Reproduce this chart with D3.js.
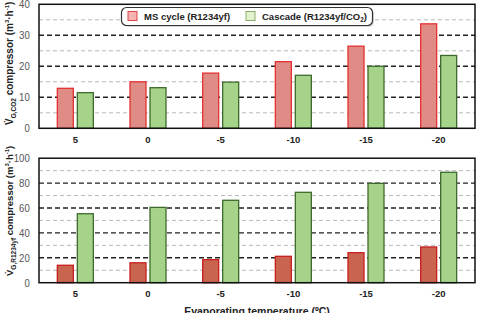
<!DOCTYPE html>
<html><head><meta charset="utf-8">
<script src="https://cdn.jsdelivr.net/npm/d3@7"></script>
<style>
body{margin:0;background:#fff;}
svg{display:block;}
text{font-family:"Liberation Sans",Arial,sans-serif;}
</style></head>
<body><svg id="c" width="479" height="313"></svg>
<script>
const categories = ["5","0","-5","-10","-15","-20"];
const seriesNames = ["MS cycle (R1234yf)","Cascade (R1234yf/CO₂)"];
const topMS = [12.9,15.0,17.8,21.5,26.5,33.7];
const topCascade = [11.5,13.1,14.9,17.1,20.0,23.5];
const botMS = [14,16,18.5,21.2,24.1,28.7];
const botCascade = [55.4,60.5,66.2,72.6,79.8,88.7];
const topTicks = [0,10,20,30,40];
const botTicks = [0,20,40,60,80,100];

const svg = d3.select("#c");
const L = 39, R = 475;
const x0 = d3.scaleBand().domain(categories).range([L, R]).padding(0);
const x1 = d3.scaleBand().domain([0,1]).range([0,36]).paddingInner(0.2).paddingOuter(0);

function panel(cfg){
  const y = d3.scaleLinear().domain([0, cfg.max]).range([cfg.bottom, cfg.top]);
  const g = svg.append("g");
  g.selectAll(".mn").data(cfg.minor).enter().append("line")
    .attr("x1", L).attr("x2", R).attr("y1", d=>y(d)).attr("y2", d=>y(d))
    .attr("stroke", "#b8b8b8").attr("stroke-width", 1).attr("stroke-dasharray", "4,3");
  g.selectAll(".mj").data(cfg.ticks.filter(t=>t>0 && t<cfg.max)).enter().append("line")
    .attr("x1", L).attr("x2", R).attr("y1", d=>y(d)).attr("y2", d=>y(d))
    .attr("stroke", "#222").attr("stroke-width", 1.4).attr("stroke-dasharray", "5,3");
  const vals = [cfg.a, cfg.b];
  const fills = [cfg.redFill, "#a6d38a"];
  const strokes = [cfg.redStroke, "#3e6a2c"];
  categories.forEach((c, i) => {
    const gx = x0(c) + (x0.bandwidth() - 36) / 2;
    [0,1].forEach(s => {
      g.append("rect")
        .attr("x", gx + x1(s)).attr("width", x1.bandwidth())
        .attr("y", y(vals[s][i])).attr("height", y(0) - y(vals[s][i]))
        .attr("fill", fills[s]).attr("stroke", strokes[s]).attr("stroke-width", 1.3);
    });
  });
  g.append("rect").attr("x", L).attr("y", y(cfg.max)).attr("width", R - L).attr("height", y(0) - y(cfg.max))
    .attr("fill", "none").attr("stroke", "#111").attr("stroke-width", 1.5);
  const ya = d3.axisLeft(y).tickValues(cfg.ticks).tickSize(0).tickPadding(8);
  const yg = g.append("g").attr("transform", `translate(${L},0)`).call(ya);
  yg.select(".domain").remove();
  yg.selectAll("text").attr("font-size", 10.5).attr("fill", "#555")
    .attr("font-family", "'Liberation Sans Narrow','Liberation Sans',Arial,sans-serif")
    .attr("transform", "scale(0.92,1)").attr("x", -10);
  const xa = d3.axisBottom(x0).tickSize(0).tickPadding(8);
  const xg = g.append("g").attr("transform", `translate(0,${y(0)})`).call(xa);
  xg.select(".domain").remove();
  xg.selectAll("text").attr("font-size", 9.5).attr("font-weight", "bold").attr("fill", "#222");
  const t = g.append("text").attr("transform", `translate(13,${cfg.titleY}) rotate(-90)`)
    .attr("text-anchor", "start").attr("font-size", cfg.tfs).attr("font-weight", "bold").attr("fill", "#222");
  t.append("tspan").text("V\u0307");
  t.append("tspan").text(cfg.sub).attr("font-size", 6.5).attr("dy", 3);
  t.append("tspan").text(" compressor (m").attr("dy", -3);
  t.append("tspan").text("3").attr("font-size", 6).attr("dy", -4);
  t.append("tspan").text("·h").attr("dy", 4);
  t.append("tspan").text("-1").attr("font-size", 6).attr("dy", -4);
  t.append("tspan").text(")").attr("dy", 4);
  return y;
}

panel({max:40, top:4.3, bottom:128.3, ticks:topTicks, minor:[5,15,25,35], a:topMS, b:topCascade,
  redFill:"#e08c86", redStroke:"#e53030", sub:"G,CO2", titleY:125, tfs:10});
panel({max:100, top:158.2, bottom:282.7, ticks:botTicks, minor:[10,30,50,70,90], a:botMS, b:botCascade,
  redFill:"#c9644f", redStroke:"#c81e1e", sub:"G,R1234yf", titleY:276, tfs:9.5});

const lg = svg.append("g");
lg.append("rect").attr("x", 123).attr("y", 9).attr("width", 251).attr("height", 18).attr("rx", 5)
  .attr("fill", "#bbb").attr("opacity", 0.6);
lg.append("rect").attr("x", 121.5).attr("y", 7.5).attr("width", 251).attr("height", 18).attr("rx", 5)
  .attr("fill", "#fff").attr("stroke", "#333").attr("stroke-width", 1.2);
const lfill = ["#f6b3b3","#e4f2d2"], lstroke = ["#d44","#8aaa6a"], lx = [128, 246];
seriesNames.forEach((n, i) => {
  lg.append("rect").attr("x", lx[i]).attr("y", 11.5).attr("width", 9).attr("height", 9)
    .attr("fill", lfill[i]).attr("stroke", lstroke[i]).attr("stroke-width", 1);
  const tt = lg.append("text").attr("x", lx[i] + 16).attr("y", 20).attr("font-size", 9.5)
    .attr("font-weight", "bold").attr("fill", "#222");
  if (i === 0) tt.text(n);
  else {
    tt.append("tspan").text("Cascade (R1234yf/CO");
    tt.append("tspan").text("2").attr("font-size", 6.5).attr("dy", 2);
    tt.append("tspan").text(")").attr("dy", -2);
  }
});

svg.append("text").attr("x", 257).attr("y", 314.5).attr("text-anchor", "middle")
  .attr("font-size", 10.5).attr("font-weight", "bold").attr("fill", "#222")
  .text("Evaporating temperature (ºC)");
</script></body></html>
